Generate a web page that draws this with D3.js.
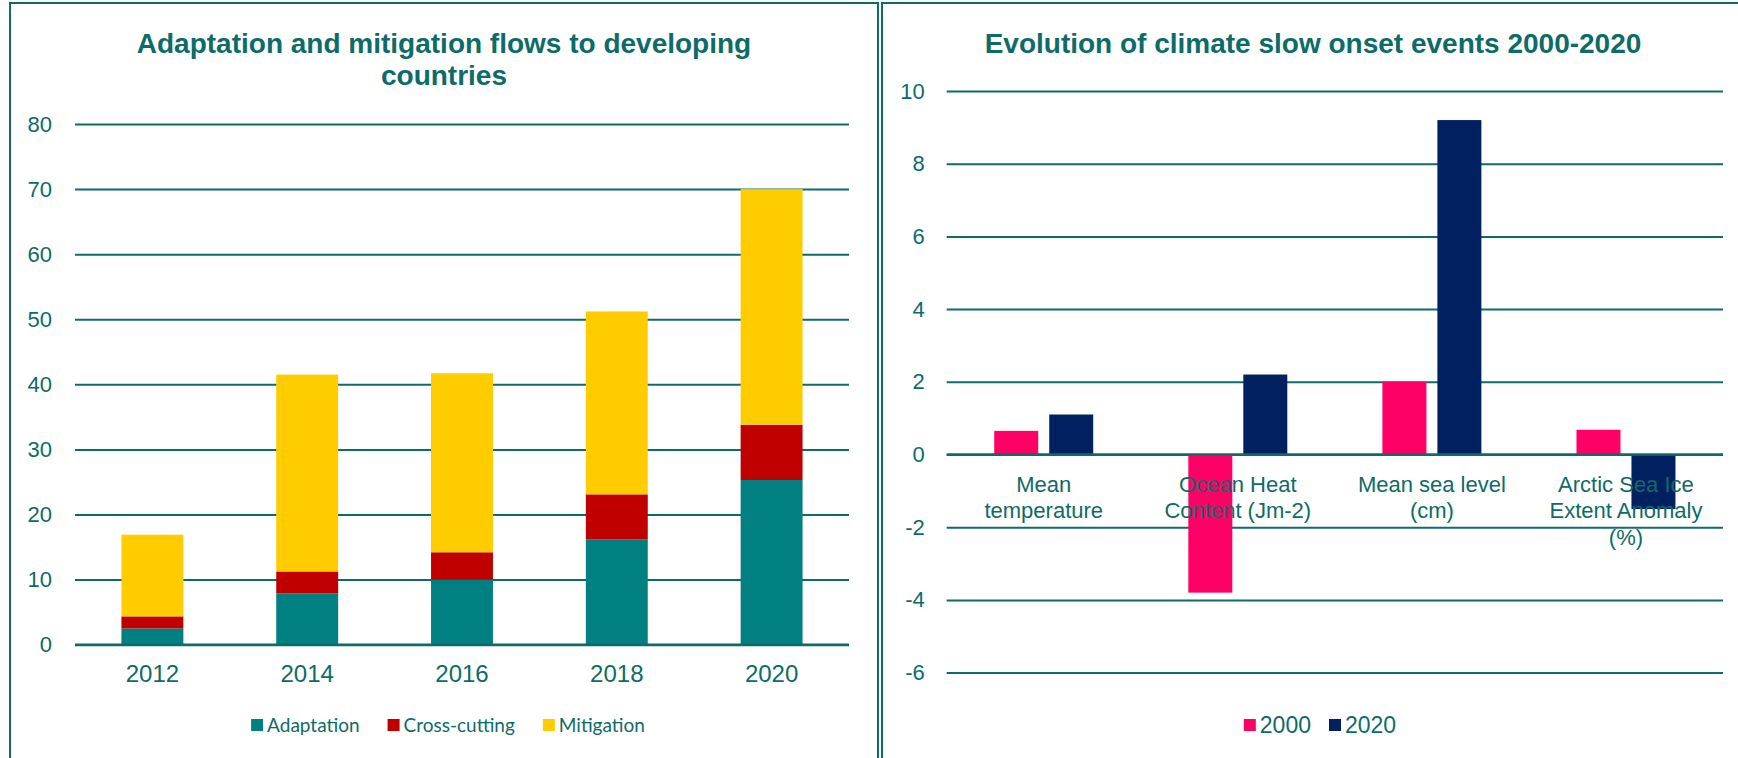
<!DOCTYPE html>
<html>
<head>
<meta charset="utf-8">
<script src="https://cdn.jsdelivr.net/npm/d3@7"></script>
<style>
  body { margin: 0; background: #fff; }
  svg { display: block; font-family: "Liberation Sans", Arial, sans-serif; }
</style>
</head>
<body>
<div id="chart"></div>
<script>
// left chart data
var years = ["2012", "2014", "2016", "2018", "2020"];
var flowSeries = ["Adaptation", "Cross-cutting", "Mitigation"];
var adaptation = [2.5, 7.9, 10.0, 16.2, 25.3];
var crossCutting = [1.85, 3.35, 4.2, 6.9, 8.5];
var mitigation = [12.55, 30.25, 27.5, 28.1, 36.2];
var flowTicks = [0, 10, 20, 30, 40, 50, 60, 70, 80];

// right chart data
var events = ["Mean temperature", "Ocean Heat Content (Jm-2)", "Mean sea level (cm)", "Arctic Sea Ice Extent Anomaly (%)"];
var eventLabelLines = [["Mean", "temperature"], ["Ocean Heat", "Content (Jm-2)"], ["Mean sea level", "(cm)"], ["Arctic Sea Ice", "Extent Anomaly", "(%)"]];
var periods = ["2000", "2020"];
var values2000 = [0.65, -3.8, 2.0, 0.68];
var values2020 = [1.1, 2.2, 9.2, -1.5];
var eventTicks = [-6, -4, -2, 0, 2, 4, 6, 8, 10];

var teal = "#0d6b68";
var flowColors = ["#008080", "#C00000", "#FFCC00"];
var periodColors = ["#FF0066", "#002060"];

var W = 1738, H = 758;
var svg = d3.select("#chart").append("svg")
  .attr("width", W)
  .attr("height", H);

// panel frames
svg.append("rect").attr("x", 10).attr("y", 3).attr("width", 868).attr("height", 800)
  .attr("fill", "none").attr("stroke", teal).attr("stroke-width", 2);
svg.append("rect").attr("x", 882).attr("y", 3).attr("width", 900).attr("height", 800)
  .attr("fill", "none").attr("stroke", teal).attr("stroke-width", 2);

// ---------- left: stacked bars ----------
var x = d3.scaleBand()
  .domain(years)
  .range([75, 849])
  .paddingInner(0.6)
  .paddingOuter(0.3);

var y = d3.scaleLinear()
  .domain([0, 80])
  .range([644.7, 124]);

var yAxisL = svg.append("g")
  .attr("transform", "translate(75,0)")
  .call(d3.axisLeft(y).tickValues(flowTicks).tickSize(-(849 - 75)).tickPadding(23));
yAxisL.select(".domain").remove();
yAxisL.selectAll("line").attr("stroke", teal).attr("stroke-width", 2);
yAxisL.selectAll("text").attr("fill", teal).style("font-size", "22px");

var rows = years.map(function (yr, i) {
  return { year: yr, "Adaptation": adaptation[i], "Cross-cutting": crossCutting[i], "Mitigation": mitigation[i] };
});
var stacked = d3.stack().keys(flowSeries)(rows);

svg.append("g").selectAll("g")
  .data(stacked)
  .enter()
  .append("g")
  .attr("fill", function (d, i) { return flowColors[i]; })
  .selectAll("rect")
  .data(function (d) { return d; })
  .enter()
  .append("rect")
  .attr("x", function (d) { return x(d.data.year); })
  .attr("y", function (d) { return y(d[1]); })
  .attr("width", x.bandwidth())
  .attr("height", function (d) { return y(d[0]) - y(d[1]); });

// zero line on top of bars
svg.append("line")
  .attr("x1", 75).attr("x2", 849)
  .attr("y1", y(0)).attr("y2", y(0))
  .attr("stroke", teal).attr("stroke-width", 2.5);

var xAxisL = svg.append("g")
  .attr("transform", "translate(0," + y(0) + ")")
  .call(d3.axisBottom(x).tickSize(0).tickPadding(20));
xAxisL.select(".domain").remove();
xAxisL.selectAll("text").attr("fill", teal).style("font-size", "24px");

svg.append("text")
  .attr("x", 444).attr("y", 53)
  .attr("text-anchor", "middle")
  .attr("fill", teal)
  .style("font-size", "28px").style("font-weight", "bold")
  .text("Adaptation and mitigation flows to developing");
svg.append("text")
  .attr("x", 444).attr("y", 85)
  .attr("text-anchor", "middle")
  .attr("fill", teal)
  .style("font-size", "28px").style("font-weight", "bold")
  .text("countries");

// legend
function drawLegend(names, colors, cx, cy, font, size, gap) {
  var g = svg.append("g");
  var items = g.selectAll("g").data(names).enter().append("g");
  items.append("rect")
    .attr("width", 12).attr("height", 12)
    .attr("y", cy - 6)
    .attr("fill", function (d, i) { return colors[i]; });
  items.append("text")
    .attr("x", 16)
    .attr("y", cy)
    .attr("dy", "0.35em")
    .attr("fill", teal)
    .style("font-family", font)
    .style("font-size", size + "px")
    .text(function (d) { return d; });
  var pos = 0, offs = [];
  items.each(function () {
    offs.push(pos);
    pos += 16 + d3.select(this).select("text").node().getComputedTextLength() + gap;
  });
  var total = pos - gap;
  items.attr("transform", function (d, i) { return "translate(" + (cx - total / 2 + offs[i]) + ",0)"; });
}
drawLegend(flowSeries, flowColors, 448, 725, "Lato, 'Open Sans', sans-serif", 19, 28);

// ---------- right: grouped bars ----------
var x0 = d3.scaleBand()
  .domain(events)
  .range([946.7, 1723])
  .paddingInner(0.49)
  .paddingOuter(0.245);

var x1 = d3.scaleBand()
  .domain(periods)
  .range([0, x0.bandwidth()])
  .paddingInner(0.2);

var y2 = d3.scaleLinear()
  .domain([-6, 10])
  .range([672.6, 91]);

var yAxisR = svg.append("g")
  .attr("transform", "translate(946.7,0)")
  .call(d3.axisLeft(y2).tickValues(eventTicks).tickFormat(function (d) { return String(d); })
    .tickSize(-(1723 - 946.7)).tickPadding(22));
yAxisR.select(".domain").remove();
yAxisR.selectAll("line").attr("stroke", teal).attr("stroke-width", 2);
yAxisR.selectAll("text").attr("fill", teal).style("font-size", "22px");

var seriesVals = [values2000, values2020];
var groups = svg.append("g").selectAll("g")
  .data(events)
  .enter()
  .append("g")
  .attr("transform", function (d) { return "translate(" + x0(d) + ",0)"; });

groups.selectAll("rect")
  .data(function (d, i) { return periods.map(function (p, j) { return { period: p, value: seriesVals[j][i], color: periodColors[j] }; }); })
  .enter()
  .append("rect")
  .attr("x", function (d) { return x1(d.period); })
  .attr("y", function (d) { return y2(Math.max(0, d.value)); })
  .attr("width", x1.bandwidth())
  .attr("height", function (d) { return Math.abs(y2(d.value) - y2(0)); })
  .attr("fill", function (d) { return d.color; });

svg.append("line")
  .attr("x1", 946.7).attr("x2", 1723)
  .attr("y1", y2(0)).attr("y2", y2(0))
  .attr("stroke", teal).attr("stroke-width", 2.5);

// category labels (drawn over bars)
var lab = svg.append("g").selectAll("text")
  .data(events)
  .enter()
  .append("text")
  .attr("text-anchor", "middle")
  .attr("fill", teal)
  .style("font-size", "22px")
  .attr("x", function (d) { return x0(d) + x0.bandwidth() / 2; })
  .attr("y", y2(0) + 37.2);
lab.selectAll("tspan")
  .data(function (d, i) { return eventLabelLines[i]; })
  .enter()
  .append("tspan")
  .attr("x", function () { return d3.select(this.parentNode).attr("x"); })
  .attr("dy", function (d, i) { return i === 0 ? 0 : 26.7; })
  .text(function (d) { return d; });

svg.append("text")
  .attr("x", 1313).attr("y", 53)
  .attr("text-anchor", "middle")
  .attr("fill", teal)
  .style("font-size", "28px").style("font-weight", "bold")
  .text("Evolution of climate slow onset events 2000-2020");

drawLegend(periods, periodColors, 1320, 725, "'Liberation Sans', Arial, sans-serif", 23, 18);
</script>
</body>
</html>
